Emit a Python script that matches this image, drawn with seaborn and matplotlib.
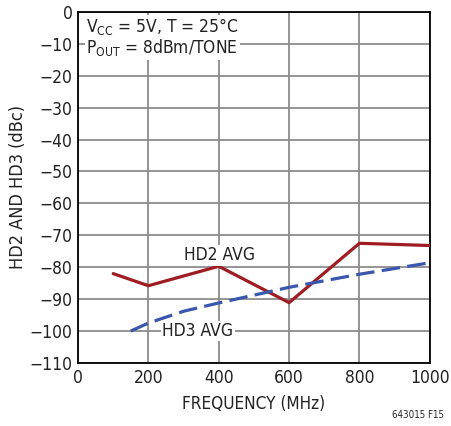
import numpy as np
import pandas as pd
import seaborn as sns
import matplotlib.pyplot as plt

# data
hd2_freq = [100, 200, 400, 600, 800, 1000]
hd2_dbc = [-82, -85.8, -79.7, -91.1, -72.5, -73.2]
hd3_freq = [150, 200, 300, 400, 600, 800, 1000]
hd3_dbc = [-100, -97.5, -93.8, -91.2, -86.3, -82.2, -78.6]
x_ticks = [0, 200, 400, 600, 800, 1000]
y_ticks = list(range(0, -111, -10))

sns.set_style("white")
plt.rcParams['font.family'] = ['DejaVu Sans']
plt.rcParams['font.stretch'] = 'condensed'

df = pd.concat([
    pd.DataFrame({"freq": hd2_freq, "dbc": hd2_dbc, "series": "HD2 AVG"}),
    pd.DataFrame({"freq": hd3_freq, "dbc": hd3_dbc, "series": "HD3 AVG"}),
])

fig = plt.figure(figsize=(4.51, 4.26), dpi=100)
ax = fig.add_axes([0.173, 0.148, 0.780, 0.824])

sns.lineplot(data=df, x="freq", y="dbc", hue="series", style="series",
             palette={"HD2 AVG": "#9e1c22", "HD3 AVG": "#3a57ad"},
             dashes={"HD2 AVG": "", "HD3 AVG": (5.8, 2.3)},
             linewidth=2.3, legend=False, ax=ax, zorder=3)

ax.set_xlim(0, 1000)
ax.set_ylim(-110, 0)
ax.set_xticks(x_ticks)
ax.set_yticks(y_ticks)
ax.set_yticklabels([str(v).replace("-", "\u2212") for v in y_ticks])
ax.grid(True, color="#8c8c8c", linewidth=1.3)
ax.tick_params(axis="both", labelsize=12.5, length=0, pad=4, labelcolor="#222222")
for s in ax.spines.values():
    s.set_color("black")
    s.set_linewidth(1.3)
ax.set_xlabel("FREQUENCY (MHz)", fontsize=12.3, labelpad=6, color="#222222")
ax.set_ylabel("HD2 AND HD3 (dBc)", fontsize=13, labelpad=2, color="#222222")

box = dict(facecolor="white", edgecolor="none", pad=1)
ax.text(403, -76.3, "HD2 AVG", fontsize=12.5, ha="center", va="center",
        bbox=box, zorder=4, color="#222222")
ax.text(341, -100, "HD3 AVG", fontsize=12.5, ha="center", va="center",
        bbox=box, zorder=4, color="#222222")
ax.text(23, -8, "V$_{\\mathregular{CC}}$ = 5V, T = 25°C\nP$_{\\mathregular{OUT}}$ = 8dBm/TONE",
        fontsize=12.5, ha="left", va="center", linespacing=1.0,
        bbox=dict(facecolor="white", edgecolor="none", pad=1), zorder=4, color="#222222")

fig.text(0.985, 0.015, "643015 F15", fontsize=7, ha="right", va="bottom")

fig.savefig("out.png", dpi=100)
